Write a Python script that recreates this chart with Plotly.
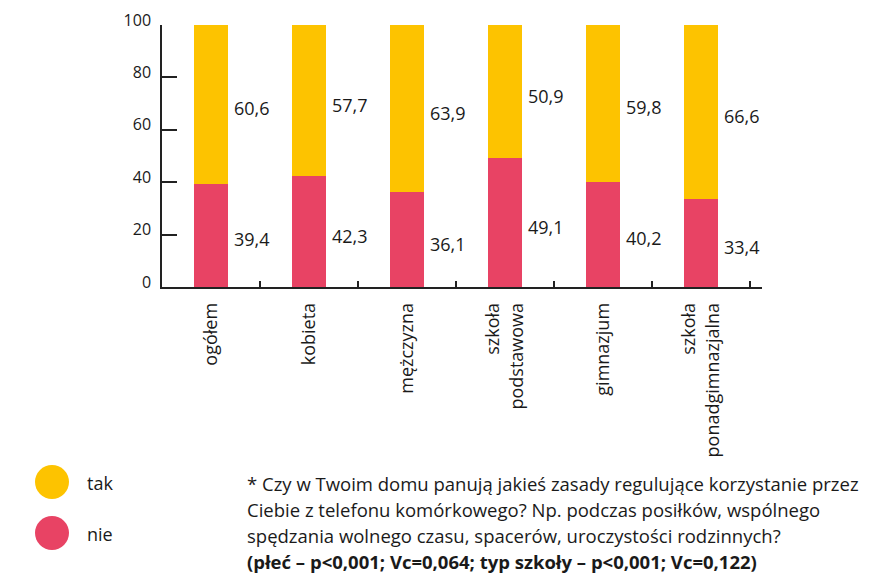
import plotly.graph_objects as go

categories = ["ogółem", "kobieta", "mężczyzna", "szkoła<br>podstawowa", "gimnazjum", "szkoła<br>ponadgimnazjalna"]
nie = [39.4, 42.3, 36.1, 49.1, 40.2, 33.4]
tak = [60.6, 57.7, 63.9, 50.9, 59.8, 66.6]
series_names = ["tak", "nie"]
colors = {"tak": "#FDC300", "nie": "#E84364"}
y_ticks = [0, 20, 40, 60, 80, 100]
footnote = [
    "* Czy w Twoim domu panują jakieś zasady regulujące korzystanie przez",
    "Ciebie z telefonu komórkowego? Np. podczas posiłków, wspólnego",
    "spędzania wolnego czasu, spacerów, uroczystości rodzinnych?",
    "<b>(płeć – p<0,001; Vc=0,064; typ szkoły – p<0,001; Vc=0,122)</b>",
]

FONT = "Open Sans"
TXT = "#1a1a1a"
OFF = 8  # page body margin
W, H = 888 - OFF, 575 - OFF
# plot area in page pixels: x 162..762, y 25..287
L, T = 162 - OFF, 25 - OFF
R = W - (762 - OFF)
B = H - (287 - OFF)
PW, PH = W - L - R, H - T - B

def px(x):
    return (x - OFF - L) / PW

def py(y):
    return (H - B - (y - OFF)) / PH

fig = go.Figure()
fig.add_bar(x=categories, y=nie, name="nie", marker_color=colors["nie"], width=0.35, marker_line_width=0)
fig.add_bar(x=categories, y=tak, name="tak", marker_color=colors["tak"], width=0.35, marker_line_width=0)

fmt = lambda v: f"{v:.1f}".replace(".", ",")
annotations = []
for c, n, t in zip(categories, nie, tak):
    annotations.append(dict(x=c, y=n / 2, text=fmt(n), xanchor="left", showarrow=False,
                            xshift=21, yshift=-4, font=dict(family=FONT, size=18, color=TXT)))
    annotations.append(dict(x=c, y=n + t / 2, text=fmt(t), xanchor="left", showarrow=False,
                            xshift=21, yshift=-4, font=dict(family=FONT, size=18, color=TXT)))

shapes = []
for i, name in enumerate(series_names):
    cy = 482 + i * 51
    shapes.append(dict(type="circle", xref="paper", yref="paper", xsizemode="pixel", ysizemode="pixel",
                       xanchor=px(52), yanchor=py(cy), x0=-17, x1=17, y0=-17, y1=17,
                       fillcolor=colors[name], line=dict(width=0)))
    annotations.append(dict(xref="paper", yref="paper", x=px(85), y=py(cy + 1), text=name, xanchor="left",
                            yanchor="middle", showarrow=False, font=dict(family=FONT, size=18, color=TXT)))

for i, line in enumerate(footnote):
    annotations.append(dict(xref="paper", yref="paper", x=px(245), y=py(483 + i * 26), text=line,
                            xanchor="left", yanchor="middle", showarrow=False,
                            font=dict(family=FONT, size=18.5, color=TXT)))

fig.update_layout(
    barmode="stack",
    width=W, height=H,
    margin=dict(l=L, r=R, t=T, b=B, autoexpand=False),
    paper_bgcolor="white", plot_bgcolor="white",
    showlegend=False,
    annotations=annotations,
    shapes=shapes,
    font=dict(family=FONT, size=16, color=TXT),
)
fig.update_xaxes(type="category", tickson="boundaries", ticks="inside", ticklen=6, tickwidth=1.5,
                 tickcolor="#222", showline=True, linecolor="#222", linewidth=1.5, tickangle=-90,
                 showgrid=False, ticklabelstandoff=7, tickfont=dict(family=FONT, size=18, color=TXT))
fig.update_yaxes(range=[0, 100], tickvals=y_ticks, ticks="inside", ticklen=15, tickwidth=1.5,
                 tickcolor="#222", showline=True, linecolor="#222", linewidth=1.5, showgrid=False,
                 zeroline=False, ticklabelshift=-5, ticklabelstandoff=6,
                 tickfont=dict(family=FONT, size=16, color=TXT))

fig.write_html("out.html")
